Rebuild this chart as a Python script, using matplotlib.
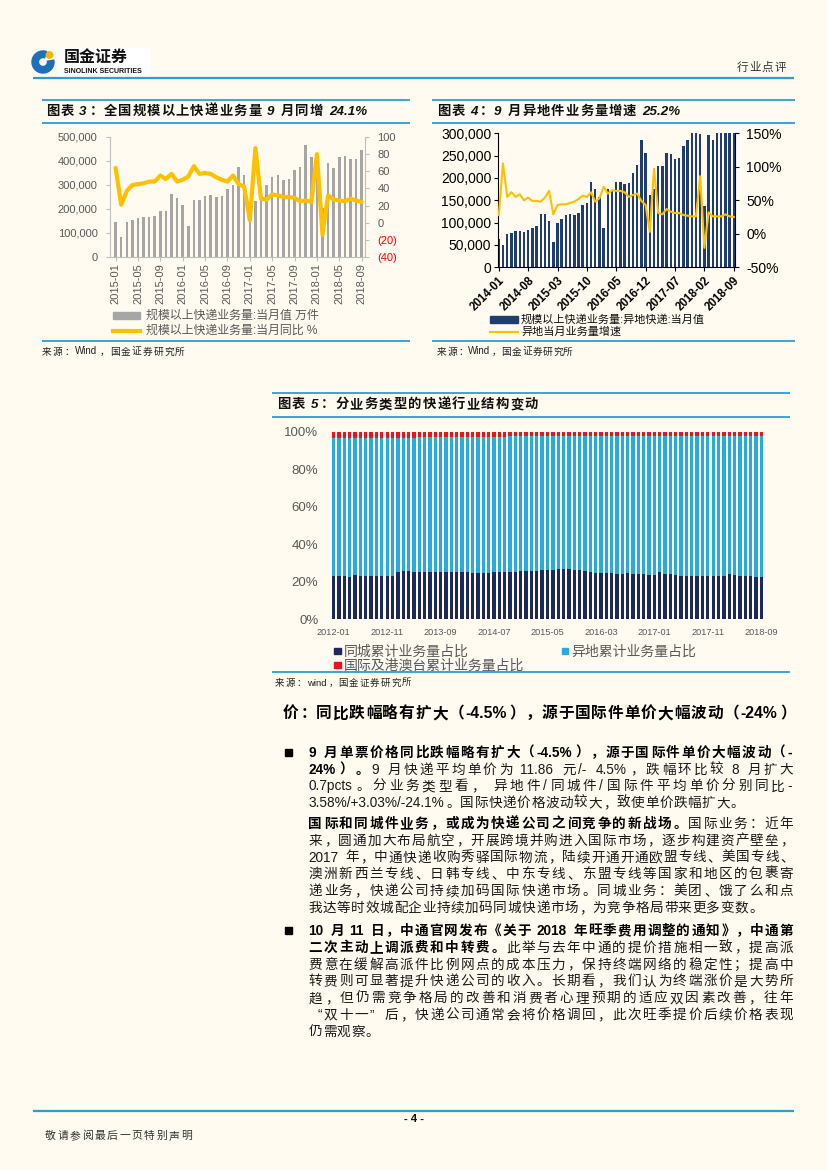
import matplotlib
matplotlib.use('Agg')
import matplotlib.pyplot as plt
from matplotlib.patches import Rectangle, Wedge, Circle
import numpy as np

# ---------------- data ----------------
months3 = ['2015-01', '2015-05', '2015-09', '2016-01', '2016-05', '2016-09',
           '2017-01', '2017-05', '2017-09', '2018-01', '2018-05', '2018-09']
vol3 = [146000, 84000, 145000, 153000, 163000, 168000, 168000, 172000, 193000, 193000, 262000, 245000,
        217000, 128000, 238000, 238000, 256000, 258000, 252000, 256000, 284000, 302000, 376000, 340000,
        222000, 235000, 293000, 299000, 333000, 342000, 322000, 326000, 361000, 375000, 468000, 417000,
        400000, 205000, 393000, 372000, 415000, 419000, 407000, 407000, 444000]
yoy3 = [64, 21, 37, 44, 45, 46, 48, 48, 55, 51, 57, 48,
        50, 54, 66, 57, 58, 57, 53, 50, 48, 55, 45, 42,
        3, 87, 28, 27, 33, 32, 30, 30, 29, 25, 26, 24,
        80, -14, 32, 27, 26, 25, 28, 26, 24.1]

months4 = ['2014-01', '2014-08', '2015-03', '2015-10', '2016-05', '2016-12',
           '2017-07', '2018-02', '2018-09']
vol4 = [63000, 51000, 74000, 77000, 81000, 81000, 80000, 84000, 89000, 93000, 119000, 120000,
        104000, 57000, 100000, 108000, 116000, 119000, 117000, 121000, 140000, 143000, 190000, 175000,
        158000, 89000, 175000, 173000, 190000, 190000, 186000, 188000, 212000, 229000, 285000, 255000,
        162000, 176000, 226000, 226000, 255000, 254000, 243000, 244000, 272000, 285000, 305000, 380000,
        298000, 137000, 296000, 284000, 320000, 330000, 345000, 335000, 350000]
yoy4 = [28, 105, 55, 62, 55, 59, 50, 54, 49, 49, 48, 54,
        64, 29, 43, 44, 44, 46, 48, 52, 57, 55, 62, 48,
        53, 70, 60, 65, 64, 64, 62, 55, 58, 60, 49, 43,
        3, 97, 31, 29, 37, 33, 31, 31, 28, 27, 26, 26,
        86, -21, 32, 26, 26, 26, 29, 26, 25.2]

months5 = ['2012-01', '2012-11', '2013-09', '2014-07', '2015-05', '2016-03',
           '2017-01', '2017-11', '2018-09']
same_city = [23.0, 23.0, 22.9, 22.7, 23.4, 23.1, 23.1, 23.0, 23.0, 23.0, 23.0,
             23.0, 25.0, 25.7,
             25.5, 25.3, 25.3, 25.2, 25.2, 25.3, 25.4, 25.3, 25.0, 25.1, 25.2, 25.0, 24.8, 24.9, 24.8, 24.8,
             25.0, 25.0, 25.1, 25.2, 25.3,
             25.6, 25.8, 26.0, 26.0, 26.1,
             26.3, 26.5, 26.8, 26.8, 26.6, 26.3, 26.2,
             25.8, 25.4, 24.8,
             24.6, 24.5, 24.5, 24.4, 24.4, 24.5, 24.2, 24.0, 23.9, 23.6,
             23.4, 25.0, 24.4, 24.0, 23.5,
             23.0, 22.9, 22.9, 23.0, 22.9, 23.0,
             23.0, 22.9, 23.0,
             24.2, 23.6,
             23.1, 22.9, 23.0, 22.8, 22.8]
other_city = [73.5, 73.5, 73.7, 73.8, 73.2, 73.5, 73.4, 73.6, 73.6, 73.7, 73.6,
              73.7, 71.8, 71.1,
              71.4, 71.6, 71.7, 71.8, 71.8, 71.7, 71.6, 71.8, 72.1, 72.0, 72.0, 72.2, 72.5, 72.4, 72.5, 72.6,
              72.4, 72.4, 72.3, 72.3, 72.2,
              71.9, 71.7, 71.6, 71.6, 71.5,
              71.3, 71.2, 70.9, 70.9, 71.1, 71.4, 71.5,
              71.9, 72.3, 72.9,
              73.1, 73.2, 73.2, 73.3, 73.3, 73.3, 73.6, 73.8, 73.9, 74.2,
              74.4, 72.7, 73.3, 73.7, 74.2,
              74.7, 74.8, 74.8, 74.7, 74.8, 74.7,
              74.7, 74.8, 74.7,
              73.5, 74.1,
              74.6, 74.7, 74.6, 74.8, 74.8]
intl = [3.5, 3.5, 3.4, 3.5, 3.4, 3.4, 3.5, 3.4, 3.4, 3.3, 3.4,
        3.3, 3.2, 3.2,
        3.1, 3.1, 3.0, 3.0, 3.0, 3.0, 3.0, 2.9, 2.9, 2.9, 2.8, 2.8, 2.7, 2.7, 2.7, 2.6,
        2.6, 2.6, 2.6, 2.5, 2.5,
        2.5, 2.5, 2.4, 2.4, 2.4,
        2.4, 2.3, 2.3, 2.3, 2.3, 2.3, 2.3,
        2.3, 2.3, 2.3,
        2.3, 2.3, 2.3, 2.3, 2.3, 2.2, 2.2, 2.2, 2.2, 2.2,
        2.2, 2.3, 2.3, 2.3, 2.3,
        2.3, 2.3, 2.3, 2.3, 2.3, 2.3,
        2.3, 2.3, 2.3,
        2.3, 2.3,
        2.3, 2.4, 2.4, 2.4, 2.4]

# ---------------- page setup ----------------
W, H, DPI = 827, 1170, 100
BG = '#FFFBF0'
BL = '#2A9FD6'
FAM = ['Liberation Sans', 'Noto Sans CJK SC', 'DejaVu Sans']
plt.rcParams['font.family'] = FAM

fig = plt.figure(figsize=(W / DPI, H / DPI), dpi=DPI, facecolor=BG)
page = fig.add_axes([0, 0, 1, 1], zorder=0)
page.set_xlim(0, W)
page.set_ylim(H, 0)
page.axis('off')
renderer = fig.canvas.get_renderer()


def measure(s, size, weight='normal', style='normal'):
    t = page.text(0, 0, s, fontsize=size, fontweight=weight, fontstyle=style)
    w = t.get_window_extent(renderer).width
    t.remove()
    return w


OPEN = '（《“'
CLOSE = '）》”，。、；：'


def draw_line(x0, y, segs, size, x1=None, gap=0.6, color='#1a1a1a', style='normal'):
    toks = []
    for seg in segs:
        text, weight = seg[0], seg[1]
        col = seg[2] if len(seg) > 2 else color
        i = 0
        while i < len(text):
            ch = text[i]
            if ch == ' ':
                toks.append((' ', weight, col, 'sp'))
                i += 1
            elif ord(ch) < 128:
                j = i
                while j < len(text) and ord(text[j]) < 128 and text[j] != ' ':
                    j += 1
                toks.append((text[i:j], weight, col, 'a'))
                i = j
            else:
                toks.append((ch, weight, col, 'c'))
                i += 1
    em = size * DPI / 72
    widths = []
    for t, w, c, k in toks:
        if k == 'c':
            widths.append(em)
        elif k == 'sp':
            widths.append(0.25 * em)
        else:
            widths.append(measure(t, size, w, style) + 0.08 * em)
    n = len(toks)
    if x1 is not None and n > 1:
        gap = (x1 - x0 - sum(widths)) / (n - 1)
    base = y + 0.36 * em
    x = x0
    for (t, w, c, k), wd in zip(toks, widths):
        kw = dict(fontsize=size, fontweight=w, color=c, va='baseline', fontstyle=style)
        if k == 'c':
            if t in OPEN:
                page.text(x + wd * 0.98, base, t, ha='right', **kw)
            elif t in CLOSE:
                page.text(x + 0.04 * em, base, t, ha='left', **kw)
            else:
                page.text(x + wd / 2, base, t, ha='center', **kw)
        elif k == 'a':
            page.text(x, base, t, ha='left', **kw)
        x += wd + gap


def hline(x0, x1, y, lw=1.2, color=BL):
    page.plot([x0, x1], [y, y], color=color, lw=lw, solid_capstyle='butt')


# ---------------- header ----------------
page.add_patch(Rectangle((58, 48), 92, 27, color='white', zorder=1))
page.add_patch(Wedge((43, 62), 11, -10, 290, width=6.5, color='#1E6FB8', zorder=2))
page.add_patch(Circle((49.5, 55), 3.2, color='#F2B600', zorder=3))
page.text(64, 62, '国金证券', fontsize=11.5, fontweight='bold', color='#111111', va='baseline', zorder=3)
page.text(64, 73, 'SINOLINK SECURITIES', fontsize=5, fontweight='bold', color='#111111', va='baseline', zorder=3)
draw_line(737, 66.5, [('行业点评', 'normal')], 8.3, x1=786, color='#333333')
hline(33, 794, 78.3, lw=1.6)

# ---------------- chart 3 panel ----------------
hline(42, 410, 100, lw=1.3)
hline(42, 410, 123, lw=1.3)
hline(42, 410, 340.5, lw=1.3)
draw_line(46, 110, [('图表 3：全国规模以上快递业务量 9 月同增 24.1%', 'bold')], 9.6, x1=368,
          color='#111111', style='italic')
draw_line(42, 351, [('来源：Wind，国金证券研究所', 'normal')], 7, x1=185, color='#222222')

ax3 = fig.add_axes([110 / W, 1 - 257 / H, 255 / W, 120 / H], facecolor='none', zorder=2)
x3 = np.arange(len(vol3))
ax3.bar(x3, vol3, width=0.45, color='#A6A6A6')
ax3.set_xlim(-1.0, 44.6)
ax3.set_ylim(0, 500000)
ax3.set_yticks(range(0, 500001, 100000))
ax3.set_yticklabels([f'{v:,}' for v in range(0, 500001, 100000)])
ax3.set_xticks(range(0, 45, 4))
ax3.set_xticklabels(months3, rotation=90)
for s in ['top', 'right']:
    ax3.spines[s].set_visible(False)
for s in ['left', 'bottom']:
    ax3.spines[s].set_color('#BFBFBF')
    ax3.spines[s].set_linewidth(0.8)
ax3.tick_params(axis='y', length=3, width=0.8, color='#BFBFBF', labelcolor='#595959', labelsize=8, pad=6)
ax3.tick_params(axis='x', length=3, width=0.8, color='#BFBFBF', labelcolor='#595959', labelsize=8, pad=1.5)

ax3r = ax3.twinx()
ax3r.plot(x3, yoy3, color='#FFC000', lw=3, solid_joinstyle='round', solid_capstyle='round')
ax3r.set_ylim(-40, 100)
rt = list(range(-40, 101, 20))
ax3r.set_yticks(rt)
ax3r.set_yticklabels([f'({-v})' if v < 0 else str(v) for v in rt])
for lbl, v in zip(ax3r.get_yticklabels(), rt):
    lbl.set_color('#FF0000' if v < 0 else '#595959')
for s in ['top', 'left', 'bottom']:
    ax3r.spines[s].set_visible(False)
ax3r.spines['right'].set_color('#BFBFBF')
ax3r.spines['right'].set_linewidth(0.8)
ax3r.tick_params(axis='y', length=3, width=0.8, color='#BFBFBF', labelsize=8, pad=6)

# legend chart 3
page.add_patch(Rectangle((113, 312.2), 27, 7, color='#A6A6A6'))
page.text(146, 315.7, '规模以上快递业务量:当月值 万件', fontsize=8.6, color='#595959', va='center')
page.plot([113, 140], [330.8, 330.8], color='#FFC000', lw=3)
page.text(146, 330.8, '规模以上快递业务量:当月同比 %', fontsize=8.6, color='#595959', va='center')

# ---------------- chart 4 panel ----------------
hline(432, 795, 100, lw=1.3)
hline(432, 795, 123, lw=1.3)
hline(432, 795, 340.5, lw=1.3)
draw_line(437, 110, [('图表 4：9 月异地件业务量增速 25.2%', 'bold')], 9.6, x1=681,
          color='#111111', style='italic')
draw_line(437, 351, [('来源：Wind，国金证券研究所', 'normal')], 7, x1=573, color='#222222')

ax4 = fig.add_axes([497.5 / W, 1 - 267.3 / H, 237.5 / W, 134 / H], facecolor='none', zorder=2)
x4 = np.arange(len(vol4))
ax4.bar(x4, vol4, width=0.58, color='#1F3D6D')
ax4.set_xlim(-0.3, 56.3)
ax4.set_ylim(0, 300000)
ax4.set_yticks(range(0, 300001, 50000))
ax4.set_yticklabels([f'{v:,}' for v in range(0, 300001, 50000)])
ax4.set_xticks(range(0, 57, 7))
ax4.set_xticklabels(months4, rotation=45, ha='right', rotation_mode='anchor', fontweight='bold', fontsize=8.3)
ax4.spines['top'].set_visible(False)
ax4.spines['right'].set_visible(False)
for s in ['left', 'bottom']:
    ax4.spines[s].set_linewidth(0.8)
ax4.tick_params(axis='y', length=3, width=0.8, labelsize=10, pad=1.5)
ax4.tick_params(axis='x', length=3, width=0.8, pad=2)

ax4r = ax4.twinx()
ax4r.plot(x4, yoy4, color='#FFC000', lw=1.5, solid_joinstyle='round')
ax4r.set_ylim(-50, 150)
rt4 = list(range(-50, 151, 50))
ax4r.set_yticks(rt4)
ax4r.set_yticklabels([f'{v}%' for v in rt4])
for s in ['top', 'left', 'bottom']:
    ax4r.spines[s].set_visible(False)
ax4r.spines['right'].set_linewidth(0.8)
ax4r.tick_params(axis='y', length=3, width=0.8, labelsize=10, pad=5)

page.add_patch(Rectangle((490, 316), 28, 6.5, color='#1F3D6D'))
page.text(521, 319.3, '规模以上快递业务量:异地快递:当月值', fontsize=8, color='#111111', va='center')
page.plot([490, 518], [331.5, 331.5], color='#FFC000', lw=1.6)
page.text(521, 331.5, '异地当月业务量增速', fontsize=8, color='#111111', va='center')

# ---------------- chart 5 panel ----------------
hline(272, 790, 393, lw=1.3)
hline(272, 790, 417, lw=1.3)
hline(272, 790, 672, lw=1.3)
draw_line(277, 403.5, [('图表 5：分业务类型的快递行业结构变动', 'bold')], 9.6, x1=538,
          color='#111111', style='italic')
draw_line(275, 682.5, [('来源：wind，国金证券研究所', 'normal')], 6.8, x1=411, color='#222222')

ax5 = fig.add_axes([328 / W, 1 - 619.3 / H, 439 / W, 187.6 / H], facecolor='none', zorder=2)
x5 = np.arange(len(same_city))
sc = np.array(same_city)
oc = np.array(other_city)
it = np.array(intl)
ax5.bar(x5, sc, width=0.62, color='#1B2A5B')
ax5.bar(x5, oc, bottom=sc, width=0.62, color='#29ABE2')
ax5.bar(x5, it, bottom=sc + oc, width=0.62, color='#E8161B')
ax5.set_xlim(-1.07, 81.07)
ax5.set_ylim(0, 100)
ax5.set_yticks(range(0, 101, 20))
ax5.set_yticklabels([f'{v}%' for v in range(0, 101, 20)])
ax5.set_xticks(range(0, 81, 10))
ax5.set_xticklabels(months5)
for s in ax5.spines.values():
    s.set_visible(False)
ax5.tick_params(axis='y', length=0, labelsize=9.5, labelcolor='#595959', pad=7)
ax5.tick_params(axis='x', length=0, labelsize=6.6, labelcolor='#595959', pad=6)

page.add_patch(Rectangle((334, 647.8), 6.6, 6.6, color='#1B2A5B'))
page.text(343.5, 651.3, '同城累计业务量占比', fontsize=10, color='#595959', va='center')
page.add_patch(Rectangle((561.5, 647.8), 6.6, 6.6, color='#29ABE2'))
page.text(571, 651.3, '异地累计业务量占比', fontsize=10, color='#595959', va='center')
page.add_patch(Rectangle((334, 661.8), 6.6, 6.6, color='#E8161B'))
page.text(343.5, 665.3, '国际及港澳台累计业务量占比', fontsize=10, color='#595959', va='center')

# ---------------- body text ----------------
BODY = 9.8
XR = 793
XL = 308.5
draw_line(283, 712.5, [('价：同比跌幅略有扩大（-4.5%），源于国际件单价大幅波动（-24%）', 'bold')], 11.3,
          x1=795, color='#000000')

page.add_patch(Rectangle((285, 748.5), 7, 7, color='#000000'))
y = 752
draw_line(XL, y, [('9 月单票价格同比跌幅略有扩大（-4.5%），源于国际件单价大幅波动（-', 'bold', '#000000')], BODY, x1=XR)
draw_line(XL, y + 16.7, [('24%）。', 'bold', '#000000'), ('9 月快递平均单价为 11.86 元/- 4.5%，跌幅环比较 8 月扩大', 'normal')], BODY, x1=XR)
draw_line(XL, y + 33.4, [('0.7pcts。分业务类型看， 异地件/同城件/国际件平均单价分别同比-', 'normal')], BODY, x1=XR)
draw_line(XL, y + 50.1, [('3.58%/+3.03%/-24.1%。国际快递价格波动较大，致使单价跌幅扩大。', 'normal')], BODY)

y = 823
draw_line(XL, y, [('国际和同城件业务，或成为快递公司之间竞争的新战场。', 'bold', '#000000'), ('国际业务：近年', 'normal')], BODY, x1=XR)
draw_line(XL, y + 16.8, [('来，圆通加大布局航空，开展跨境并购进入国际市场，逐步构建资产壁垒，', 'normal')], BODY, x1=XR)
draw_line(XL, y + 33.6, [('2017 年，中通快递收购秀驿国际物流，陆续开通开通欧盟专线、美国专线、', 'normal')], BODY, x1=XR)
draw_line(XL, y + 50.4, [('澳洲新西兰专线、日韩专线、中东专线、东盟专线等国家和地区的包裹寄', 'normal')], BODY, x1=XR)
draw_line(XL, y + 67.2, [('递业务，快递公司持续加码国际快递市场。同城业务：美团、饿了么和点', 'normal')], BODY, x1=XR)
draw_line(XL, y + 84.0, [('我达等时效城配企业持续加码同城快递市场，为竞争格局带来更多变数。', 'normal')], BODY)

page.add_patch(Rectangle((285, 926.5), 7, 7, color='#000000'))
y = 930
draw_line(XL, y, [('10 月 11 日，中通官网发布《关于 2018 年旺季费用调整的通知》，中通第', 'bold', '#000000')], BODY, x1=XR)
draw_line(XL, y + 16.8, [('二次主动上调派费和中转费。', 'bold', '#000000'), ('此举与去年中通的提价措施相一致，提高派', 'normal')], BODY, x1=XR)
draw_line(XL, y + 33.6, [('费意在缓解高派件比例网点的成本压力，保持终端网络的稳定性；提高中', 'normal')], BODY, x1=XR)
draw_line(XL, y + 50.4, [('转费则可显著提升快递公司的收入。长期看，我们认为终端涨价是大势所', 'normal')], BODY, x1=XR)
draw_line(XL, y + 67.2, [('趋，但仍需竞争格局的改善和消费者心理预期的适应双因素改善，往年', 'normal')], BODY, x1=XR)
draw_line(XL, y + 84.0, [('“双十一”后，快递公司通常会将价格调回，此次旺季提价后续价格表现', 'normal')], BODY, x1=XR)
draw_line(XL, y + 100.8, [('仍需观察。', 'normal')], BODY)

# ---------------- footer ----------------
hline(33, 794, 1110.7, lw=1.6)
page.text(414, 1119.5, '- 4 -', fontsize=8, fontweight='bold', ha='center', va='center', color='#111111')
draw_line(45, 1135, [('敬请参阅最后一页特别声明', 'normal')], 7.8, x1=192, color='#333333')

fig.savefig('out.png', dpi=DPI, facecolor=BG)
